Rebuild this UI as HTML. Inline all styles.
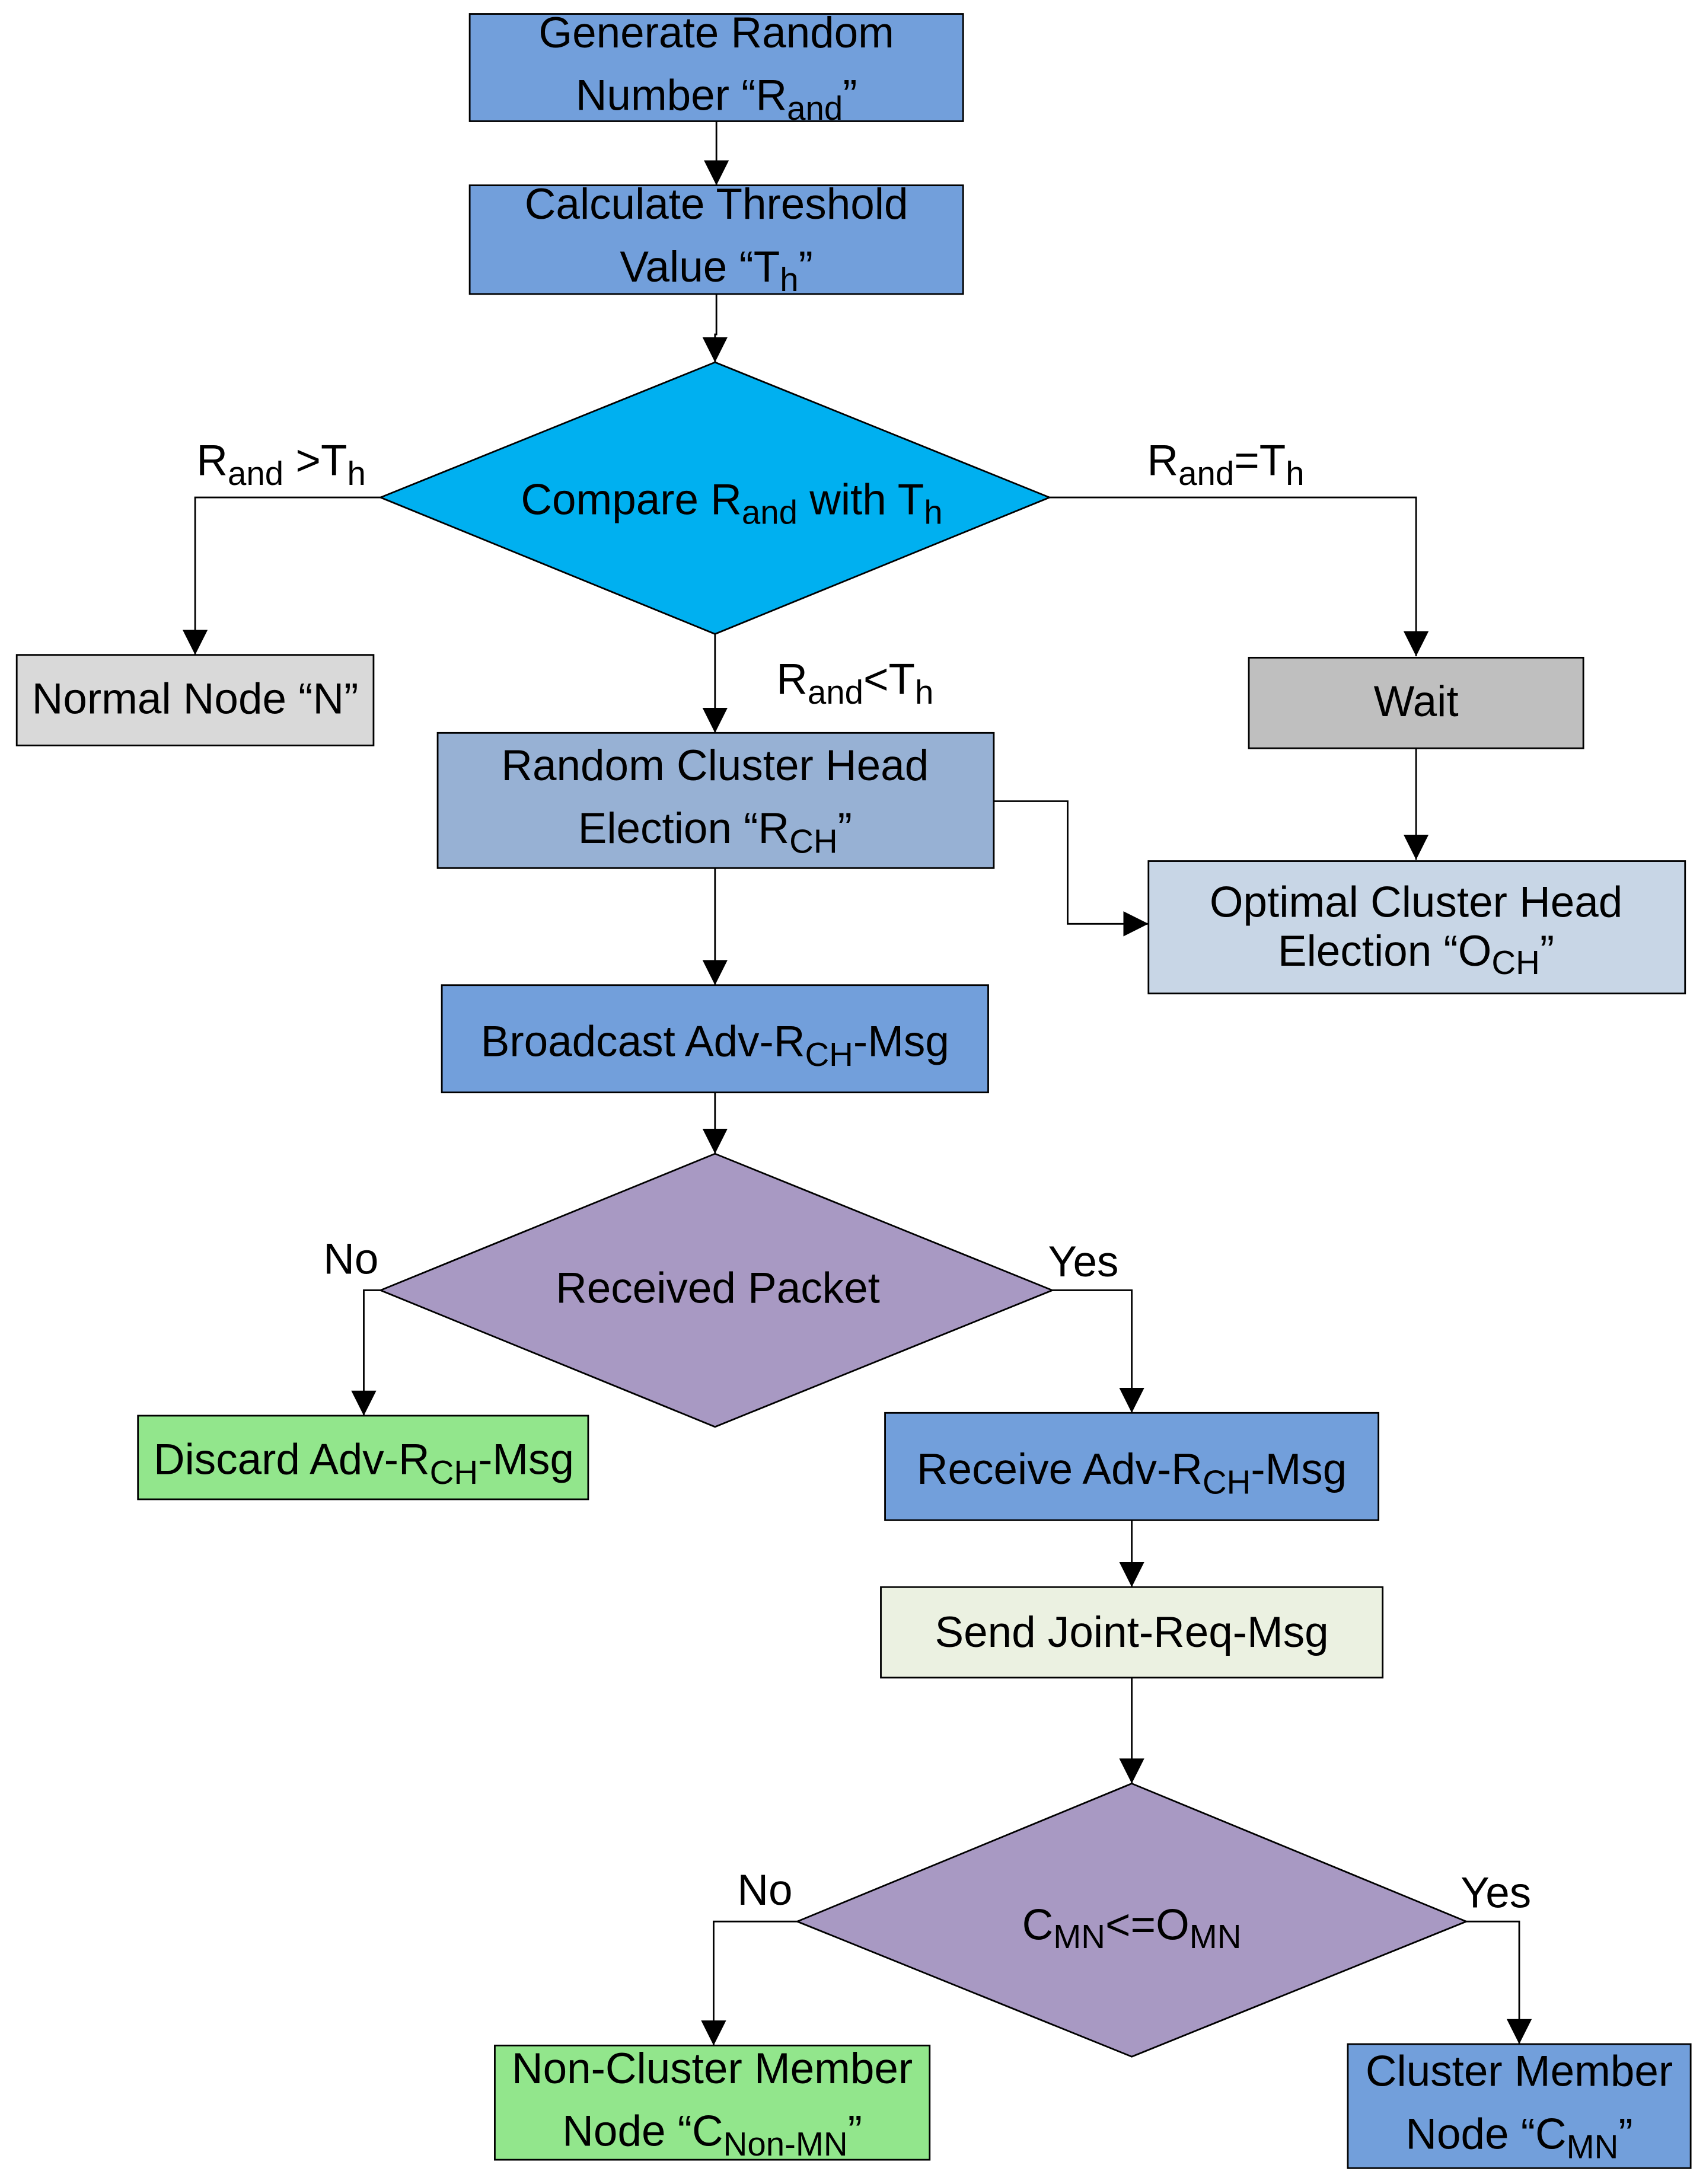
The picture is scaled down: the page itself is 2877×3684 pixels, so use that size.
<!DOCTYPE html>
<html><head><meta charset="utf-8"><style>
html,body{margin:0;padding:0;background:#fff}
svg{display:block}
text{font-family:"Liberation Sans",sans-serif;font-size:31px;fill:#000}
.s{font-size:24px}
</style></head><body>
<svg width="2877" height="3684" viewBox="0 0 1224 1567.4" preserveAspectRatio="none" xmlns="http://www.w3.org/2000/svg">
<defs>
<marker id="a" markerWidth="20" markerHeight="20" refX="18" refY="9" orient="auto" markerUnits="userSpaceOnUse">
<path d="M0,0 L18,9 L0,18 Z" fill="#000"/></marker>
</defs>
<g stroke="#000" stroke-width="1.2">
<rect x="337" y="10" width="354" height="77" fill="#729fdb"/>
<rect x="337" y="133" width="354" height="78" fill="#729fdb"/>
<polygon points="513,260 753,357 513,455 273,357" fill="#00b0f0"/>
<rect x="12" y="470" width="256" height="65" fill="#d9d9d9"/>
<rect x="896" y="472" width="240" height="65" fill="#bfbfbf"/>
<rect x="824" y="618" width="385" height="95" fill="#c8d6e6"/>
<rect x="314" y="526" width="399" height="97" fill="#97b1d4"/>
<rect x="317" y="707" width="392" height="77" fill="#729fdb"/>
<polygon points="513,828 755,926 513,1024 273,926" fill="#a899c3"/>
<rect x="99" y="1016" width="323" height="60" fill="#92e68c"/>
<rect x="635" y="1014" width="354" height="77" fill="#729fdb"/>
<rect x="632" y="1139" width="360" height="65" fill="#ebf1e1"/>
<polygon points="812,1280 1052,1379 812,1476 572,1379" fill="#a899c3"/>
<rect x="355" y="1468" width="312" height="82" fill="#92e68c"/>
<rect x="967" y="1467" width="246" height="89" fill="#729fdb"/>
</g>
<g stroke="#000" stroke-width="1.2" fill="none">
<path d="M514,87 V133" marker-end="url(#a)"/>
<path d="M514,211 V240 H513 V260" marker-end="url(#a)"/>
<path d="M273,357 H140 V470" marker-end="url(#a)"/>
<path d="M753,357 H1016 V471" marker-end="url(#a)"/>
<path d="M1016,537 V617" marker-end="url(#a)"/>
<path d="M513,455 V526" marker-end="url(#a)"/>
<path d="M713,575 H766 V663 H824" marker-end="url(#a)"/>
<path d="M513,623 V707" marker-end="url(#a)"/>
<path d="M513,784 V828" marker-end="url(#a)"/>
<path d="M273,926 H261 V1016" marker-end="url(#a)"/>
<path d="M755,926 H812 V1014" marker-end="url(#a)"/>
<path d="M812,1091 V1139" marker-end="url(#a)"/>
<path d="M812,1204 V1280" marker-end="url(#a)"/>
<path d="M572,1379 H512 V1468" marker-end="url(#a)"/>
<path d="M1052,1379 H1090 V1467" marker-end="url(#a)"/>
</g>
<g text-anchor="middle">
<text x="514" y="34">Generate Random</text>
<text x="514" y="79">Number “R<tspan class="s" dy="7">and</tspan><tspan dy="-7">”</tspan></text>
<text x="514" y="157">Calculate Threshold</text>
<text x="514" y="202">Value “T<tspan class="s" dy="7">h</tspan><tspan dy="-7">”</tspan></text>
<text x="525" y="369">Compare R<tspan class="s" dy="7">and</tspan><tspan dy="-7">  with T</tspan><tspan class="s" dy="7">h</tspan></text>
<text x="140" y="512">Normal Node “N”</text>
<text x="1016" y="514">Wait</text>
<text x="1016" y="658">Optimal Cluster Head</text>
<text x="1016" y="693">Election “O<tspan class="s" dy="6">CH</tspan><tspan dy="-6">”</tspan></text>
<text x="513" y="560">Random Cluster Head</text>
<text x="513" y="605">Election “R<tspan class="s" dy="7">CH</tspan><tspan dy="-7">”</tspan></text>
<text x="513" y="758">Broadcast Adv-R<tspan class="s" dy="7">CH</tspan><tspan dy="-7">-Msg</tspan></text>
<text x="515" y="935">Received Packet</text>
<text x="261" y="1058">Discard Adv-R<tspan class="s" dy="7">CH</tspan><tspan dy="-7">-Msg</tspan></text>
<text x="812" y="1065">Receive Adv-R<tspan class="s" dy="7">CH</tspan><tspan dy="-7">-Msg</tspan></text>
<text x="812" y="1182">Send Joint-Req-Msg</text>
<text x="812" y="1392">C<tspan class="s" dy="6">MN</tspan><tspan dy="-6">&lt;=O</tspan><tspan class="s" dy="6">MN</tspan></text>
<text x="511" y="1495">Non-Cluster Member</text>
<text x="511" y="1540">Node “C<tspan class="s" dy="7">Non-MN</tspan><tspan dy="-7">”</tspan></text>
<text x="1090" y="1497">Cluster Member</text>
<text x="1090" y="1542">Node “C<tspan class="s" dy="7">MN</tspan><tspan dy="-7">”</tspan></text>
</g>
<text x="141" y="341">R<tspan class="s" dy="7">and</tspan><tspan dy="-7"> &gt;T</tspan><tspan class="s" dy="7">h</tspan></text>
<text x="823" y="341">R<tspan class="s" dy="7">and</tspan><tspan dy="-7">=T</tspan><tspan class="s" dy="7">h</tspan></text>
<text x="557" y="498">R<tspan class="s" dy="7">and</tspan><tspan dy="-7">&lt;T</tspan><tspan class="s" dy="7">h</tspan></text>
<text x="232" y="914">No</text>
<text x="752" y="916">Yes</text>
<text x="529" y="1367">No</text>
<text x="1048" y="1369">Yes</text>
</svg>
</body></html>
